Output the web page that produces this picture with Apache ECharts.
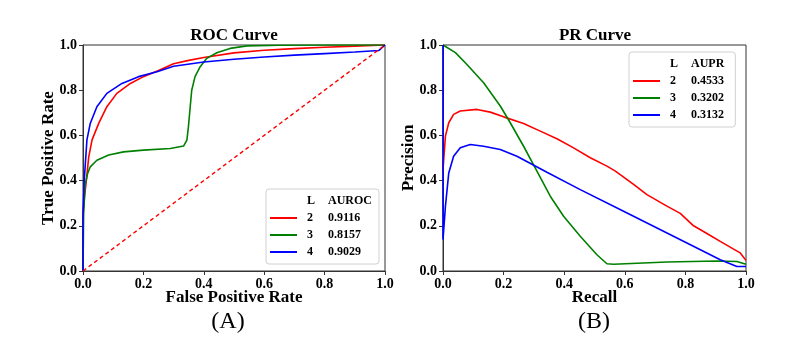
<!DOCTYPE html>
<html>
<head>
<meta charset="utf-8">
<script src="https://cdn.jsdelivr.net/npm/echarts@6/dist/echarts.min.js"></script>
<style>
html,body{margin:0;padding:0;background:#fff;}
#chart{width:796px;height:351px;}
</style>
</head>
<body>
<div id="chart"></div>
<script>
// ---- Data ----
var levels = ['2', '3', '4'];
var aurocValues = ['0.9116', '0.8157', '0.9029'];
var auprValues = ['0.4533', '0.3202', '0.3132'];
var tickLabels = ['0.0', '0.2', '0.4', '0.6', '0.8', '1.0'];

// ROC, L = 2
var rocFpr2 = [0, 0, 0.005, 0.011, 0.019, 0.03, 0.052, 0.079, 0.112, 0.157, 0.2, 0.25, 0.3, 0.35, 0.4, 0.5, 0.6, 0.7, 0.8, 0.9, 1.0];
var rocTpr2 = [0, 0.25, 0.33, 0.40, 0.505, 0.58, 0.653, 0.727, 0.786, 0.83, 0.86, 0.887, 0.917, 0.932, 0.945, 0.965, 0.977, 0.984, 0.99, 0.995, 1.0];
// ROC, L = 3
var rocFpr3 = [0, 0.002, 0.007, 0.015, 0.024, 0.046, 0.085, 0.134, 0.2, 0.289, 0.333, 0.344, 0.349, 0.355, 0.36, 0.371, 0.388, 0.41, 0.443, 0.487, 0.543, 0.65, 0.8, 1.0];
var rocTpr3 = [0, 0.25, 0.38, 0.43, 0.461, 0.49, 0.513, 0.527, 0.535, 0.542, 0.553, 0.579, 0.638, 0.727, 0.80, 0.86, 0.904, 0.941, 0.966, 0.985, 0.996, 0.999, 1.0, 1.0];
// ROC, L = 4
var rocFpr4 = [0, 0, 0.004, 0.013, 0.024, 0.046, 0.079, 0.129, 0.184, 0.245, 0.3, 0.4, 0.5, 0.6, 0.7, 0.8, 0.9, 0.98, 1.0];
var rocTpr4 = [0, 0.25, 0.40, 0.58, 0.653, 0.727, 0.786, 0.83, 0.86, 0.882, 0.906, 0.925, 0.937, 0.947, 0.955, 0.962, 0.969, 0.976, 1.0];
// Chance diagonal
var diagX = [0, 1];
var diagY = [0, 1];

// PR, L = 2
var prRec2 = [0, 0.008, 0.019, 0.035, 0.057, 0.112, 0.156, 0.2, 0.266, 0.321, 0.376, 0.431, 0.486, 0.541, 0.569, 0.629, 0.673, 0.739, 0.783, 0.827, 0.871, 0.915, 0.959, 0.981, 1.0];
var prPre2 = [0.449, 0.597, 0.656, 0.693, 0.708, 0.715, 0.703, 0.682, 0.653, 0.619, 0.585, 0.545, 0.501, 0.464, 0.442, 0.383, 0.338, 0.287, 0.255, 0.2, 0.166, 0.131, 0.097, 0.08, 0.047];
// PR, L = 3
var prRec3 = [0, 0.041, 0.079, 0.134, 0.189, 0.222, 0.266, 0.31, 0.354, 0.398, 0.453, 0.508, 0.541, 0.563, 0.739, 0.904, 0.97, 1.0];
var prPre3 = [1.0, 0.966, 0.914, 0.833, 0.73, 0.656, 0.552, 0.442, 0.331, 0.242, 0.154, 0.072, 0.032, 0.03, 0.04, 0.044, 0.042, 0.03];
// PR, L = 4
var prRec4 = [0, 0, 0.008, 0.019, 0.035, 0.057, 0.09, 0.134, 0.189, 0.244, 0.343, 0.453, 0.596, 0.805, 0.915, 0.97, 1.0];
var prPre4 = [1.0, 0.139, 0.286, 0.434, 0.508, 0.545, 0.56, 0.552, 0.538, 0.508, 0.437, 0.36, 0.264, 0.124, 0.05, 0.02, 0.02];

function pairs(xs, ys) {
  var out = [];
  for (var i = 0; i < xs.length; i++) out.push([xs[i], ys[i]]);
  return out;
}

var colors = {'2': '#ff0000', '3': '#008000', '4': '#0000ff'};
var serif = '"Liberation Serif", "Times New Roman", serif';
var axisColor = '#333';

function axisCommon(idx, name, gap) {
  return {
    type: 'value', gridIndex: idx, min: 0, max: 1, interval: 0.2,
    name: name, nameLocation: 'middle', nameGap: gap, nameMoveOverlap: false,
    nameTextStyle: {fontFamily: serif, fontWeight: 'bold', fontSize: 17, color: '#000'},
    axisLine: {show: true, lineStyle: {color: axisColor, width: 1}},
    axisTick: {show: true, length: 4, lineStyle: {color: axisColor}},
    splitLine: {show: false},
    axisLabel: {margin: 6, fontFamily: serif, fontWeight: 'bold', fontSize: 14, color: '#000',
      formatter: function (v) { return tickLabels[Math.round(v * 5)]; }}
  };
}
function lineSeries(name, xi, data) {
  return {
    type: 'line', name: name, xAxisIndex: xi, yAxisIndex: xi, data: data,
    showSymbol: false, symbol: 'none', smooth: false, animation: false,
    lineStyle: {color: colors[name], width: 1.6}, itemStyle: {color: colors[name]}
  };
}

var legendRich = {
  a: {width: 21, align: 'left', padding: [0, 0, 0, 5], fontFamily: serif, fontWeight: 'bold', fontSize: 12, color: '#000'},
  b: {align: 'left', fontFamily: serif, fontWeight: 'bold', fontSize: 12, color: '#000'}
};
function makeLegend(hdrName, hdrLabel, values, pos, padRight) {
  var items = [{name: hdrName, icon: 'rect', itemStyle: {color: 'rgba(0,0,0,0)', borderWidth: 0}}];
  levels.forEach(function (l) {
    items.push({name: l, icon: 'rect', itemStyle: {color: colors[l], borderWidth: 0}});
  });
  return {
    orient: 'vertical', left: pos.left, top: pos.top,
    padding: [5, padRight, 5, 4], itemGap: 3, itemWidth: 27, itemHeight: 2,
    backgroundColor: '#fff', borderColor: '#d0d0d0', borderWidth: 1, borderRadius: 3,
    selectedMode: false,
    data: items,
    formatter: function (n) {
      if (n === hdrName) return '{a|L}{b|' + hdrLabel + '}';
      var i = levels.indexOf(n);
      return '{a|' + n + '}{b|' + values[i] + '}';
    },
    textStyle: {rich: legendRich, lineHeight: 14}
  };
}

var series = [];
series.push(lineSeries('2', 0, pairs(rocFpr2, rocTpr2)));
series.push(lineSeries('3', 0, pairs(rocFpr3, rocTpr3)));
series.push(lineSeries('4', 0, pairs(rocFpr4, rocTpr4)));
series.push({type: 'line', name: 'diag', xAxisIndex: 0, yAxisIndex: 0, data: pairs(diagX, diagY),
  showSymbol: false, symbol: 'none', animation: false,
  lineStyle: {color: '#ff0000', width: 1.4, type: [4, 3]}});
series.push(lineSeries('2', 1, pairs(prRec2, prPre2)));
series.push(lineSeries('3', 1, pairs(prRec3, prPre3)));
series.push(lineSeries('4', 1, pairs(prRec4, prPre4)));
series.push({type: 'line', name: 'hdrA', xAxisIndex: 0, yAxisIndex: 0, data: []});
series.push({type: 'line', name: 'hdrB', xAxisIndex: 1, yAxisIndex: 1, data: []});

var chart = echarts.init(document.getElementById('chart'), null, {renderer: 'canvas'});
chart.setOption({
  backgroundColor: '#fff',
  animation: false,
  title: [
    {text: 'ROC Curve', left: 234, top: 27, textAlign: 'center', padding: 0,
      textStyle: {fontFamily: serif, fontWeight: 'bold', fontSize: 17, color: '#000'}},
    {text: 'PR Curve', left: 595, top: 27, textAlign: 'center', padding: 0,
      textStyle: {fontFamily: serif, fontWeight: 'bold', fontSize: 17, color: '#000'}},
    {text: '(A)', left: 228, top: 310, textAlign: 'center', padding: 0,
      textStyle: {fontFamily: serif, fontWeight: 'normal', fontSize: 24, color: '#000'}},
    {text: '(B)', left: 594, top: 310, textAlign: 'center', padding: 0,
      textStyle: {fontFamily: serif, fontWeight: 'normal', fontSize: 24, color: '#000'}}
  ],
  grid: [
    {left: 83, top: 45, width: 302, height: 226, show: true, borderColor: axisColor, borderWidth: 1, backgroundColor: 'transparent'},
    {left: 443, top: 45, width: 303, height: 226, show: true, borderColor: axisColor, borderWidth: 1, backgroundColor: 'transparent'}
  ],
  xAxis: [axisCommon(0, 'False Positive Rate', 18), axisCommon(1, 'Recall', 18)],
  yAxis: [axisCommon(0, 'True Positive Rate', 26), axisCommon(1, 'Precision', 26)],
  legend: [
    makeLegend('hdrA', 'AUROC', aurocValues, {left: 266, top: 189}, 7),
    makeLegend('hdrB', 'AUPR', auprValues, {left: 629, top: 52}, 11)
  ],
  series: series
});
</script>
</body>
</html>
